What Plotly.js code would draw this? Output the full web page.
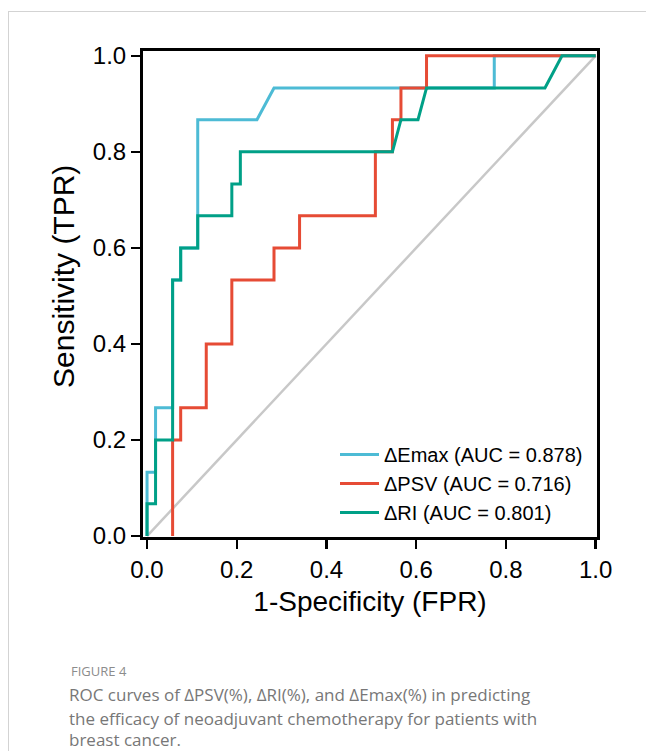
<!DOCTYPE html>
<html>
<head>
<meta charset="utf-8">
<script src="https://cdn.plot.ly/plotly-3.0.1.min.js"></script>
<style>
  html, body { margin: 0; padding: 0; background: #fff; }
  #frame { position: absolute; left: 8px; top: 11px; width: 700px; height: 800px;
           border-left: 1px solid #d3d3d3; border-top: 1px solid #d3d3d3; }
  #chart { position: absolute; left: 0; top: 0; width: 646px; height: 751px; }
</style>
</head>
<body>
<div id="frame"></div>
<div id="chart"></div>
<script>
// ---- data ----
const emaxFPR = [0, 0, 0.019, 0.019, 0.057, 0.057, 0.075, 0.075, 0.113, 0.113, 0.245, 0.283, 0.774, 0.774, 1];
const emaxTPR = [0, 0.133, 0.133, 0.267, 0.267, 0.533, 0.533, 0.6, 0.6, 0.867, 0.867, 0.933, 0.933, 1, 1];

const psvFPR = [0.057, 0.057, 0.075, 0.075, 0.132, 0.132, 0.189, 0.189, 0.283, 0.283, 0.34, 0.34, 0.509, 0.509, 0.547, 0.547, 0.566, 0.566, 0.623, 0.623, 1];
const psvTPR = [0, 0.2, 0.2, 0.267, 0.267, 0.4, 0.4, 0.533, 0.533, 0.6, 0.6, 0.667, 0.667, 0.8, 0.8, 0.867, 0.867, 0.933, 0.933, 1, 1];

const riFPR = [0, 0, 0.019, 0.019, 0.057, 0.057, 0.075, 0.075, 0.113, 0.113, 0.189, 0.189, 0.208, 0.208, 0.547, 0.566, 0.604, 0.623, 0.887, 0.925, 1];
const riTPR = [0, 0.067, 0.067, 0.2, 0.2, 0.533, 0.533, 0.6, 0.6, 0.667, 0.667, 0.733, 0.733, 0.8, 0.8, 0.867, 0.867, 0.933, 0.933, 1, 1];

const refLine = [0, 1];

const seriesNames = ['ΔEmax (AUC = 0.878)', 'ΔPSV (AUC = 0.716)', 'ΔRI (AUC = 0.801)'];
const seriesColors = ['#4DBBD5', '#E64B35', '#00A087'];
const tickVals = [0, 0.2, 0.4, 0.6, 0.8, 1.0];
const tickText = ['0.0', '0.2', '0.4', '0.6', '0.8', '1.0'];

const xTitle = '1-Specificity (FPR)';
const yTitle = 'Sensitivity (TPR)';
const figLabel = 'FIGURE 4';
const captionLines = [
  'ROC curves of ΔPSV(%), ΔRI(%), and ΔEmax(%) in predicting',
  'the efficacy of neoadjuvant chemotherapy for patients with',
  'breast cancer.'
];

// ---- geometry helpers (plot area: left 143, top 51, w 454, h 486) ----
const L = 143, T = 51, W = 454, H = 486;
const px = x => (x - L) / W;
const py = y => (T + H - y) / H;

const traces = [
  { x: refLine, y: refLine, mode: 'lines', line: { color: '#c8c8c8', width: 2.5 }, showlegend: false, hoverinfo: 'skip' },
  { x: emaxFPR, y: emaxTPR, name: seriesNames[0], mode: 'lines', line: { color: seriesColors[0], width: 3 } },
  { x: psvFPR, y: psvTPR, name: seriesNames[1], mode: 'lines', line: { color: seriesColors[1], width: 3 } },
  { x: riFPR, y: riTPR, name: seriesNames[2], mode: 'lines', line: { color: seriesColors[2], width: 3 } }
];

const axisCommon = {
  showline: true, mirror: true, linecolor: '#000', linewidth: 3,
  ticks: 'outside', ticklen: 9, tickwidth: 2.5, tickcolor: '#000',
  showgrid: false, zeroline: false,
  tickvals: tickVals, ticktext: tickText,
  tickfont: { family: 'Liberation Sans, Arial, sans-serif', size: 24, color: '#000' }
};

const annotations = [
  { xref: 'paper', yref: 'paper', x: px(63), y: py(277), xanchor: 'center', yanchor: 'middle',
    text: yTitle, textangle: -90, showarrow: false,
    font: { family: 'Liberation Sans, Arial, sans-serif', size: 30, color: '#000' } },
  { xref: 'paper', yref: 'paper', x: px(69), y: py(671), xanchor: 'left', yanchor: 'middle',
    text: figLabel, showarrow: false,
    font: { family: 'Open Sans, Noto Sans, sans-serif', size: 13, color: '#8c8c8c' } }
];
const capY = [694, 718, 739];
captionLines.forEach((t, i) => {
  annotations.push({ xref: 'paper', yref: 'paper', x: px(67), y: py(capY[i]), xanchor: 'left', yanchor: 'middle',
    text: t, showarrow: false,
    font: { family: 'Open Sans, Noto Sans, sans-serif', size: 17, color: '#777777' } });
});

const layout = {
  width: 646, height: 751,
  margin: { l: L, r: 646 - L - W, t: T, b: 751 - T - H, pad: 0 },
  paper_bgcolor: 'rgba(0,0,0,0)', plot_bgcolor: '#fff',
  xaxis: Object.assign({}, axisCommon, {
    range: [-0.009, 1.003],
    title: { text: xTitle, standoff: 10,
      font: { family: 'Liberation Sans, Arial, sans-serif', size: 28, color: '#000' } }
  }),
  yaxis: Object.assign({}, axisCommon, {
    range: [-0.002, 1.01]
  }),
  legend: {
    x: px(335), y: py(435), xanchor: 'left', yanchor: 'top',
    bgcolor: 'rgba(0,0,0,0)', borderwidth: 0, itemwidth: 39,
    font: { family: 'Liberation Sans, Arial, sans-serif', size: 20, color: '#000' },
    tracegroupgap: 0
  },
  annotations: annotations,
  showlegend: true
};

Plotly.newPlot('chart', traces, layout, { displayModeBar: false, staticPlot: true });
</script>
</body>
</html>
